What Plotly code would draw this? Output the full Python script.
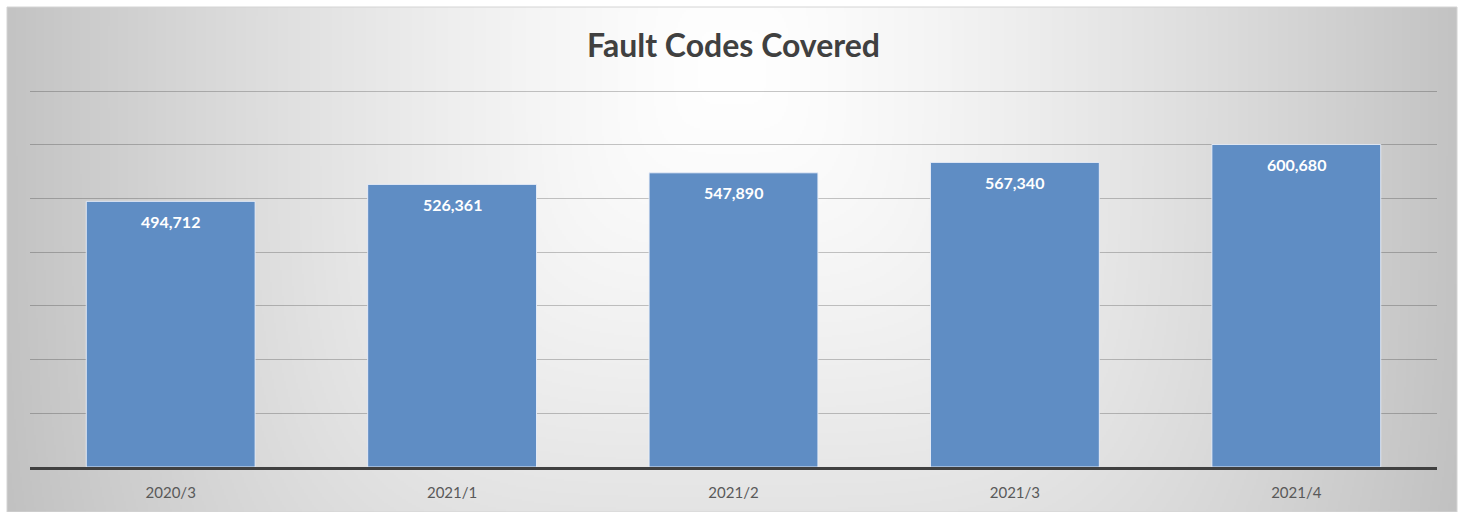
import base64
import struct
import zlib
import numpy as np
import plotly.graph_objects as go

categories = ["2020/3", "2021/1", "2021/2", "2021/3", "2021/4"]
values = [494712, 526361, 547890, 567340, 600680]
grid_values = [100000, 200000, 300000, 400000, 500000, 600000, 700000]
title_text = "Fault Codes Covered"

W, H = 1464, 512
ml, mr, mt, mb = 30, 27, 89, 45
pw, ph = W - ml - mr, H - mt - mb


def px_to_paper_x(px):
    return (px - ml) / pw


def px_to_paper_y(py):
    return (H - mb - py) / ph


box_x0, box_x1, box_y0, box_y1 = 7, 1457, 7, 512


def gradient_png(w, h):
    # rounded-rectangle style radial background (white centre, grey edges)
    xs = (np.arange(w) + 0.5) / w * 1450.0
    ys = (np.arange(h) + 0.5) / h * 505.0
    X, Y = np.meshgrid(xs, ys)
    dx = np.abs(X - 725.0) / 725.0
    dy = np.abs(Y - 60.0) / 800.0
    t = (dx ** 4 + dy ** 4) ** 0.25
    col = 255.0 - 60.0 * np.clip(t, 0, 1.2) ** 1.35
    col = np.clip(col, 0, 255).astype(np.uint8)
    raw = b"".join(b"\x00" + bytes(np.repeat(row, 3)) for row in col)

    def chunk(tag, data):
        c = struct.pack(">I", len(data)) + tag + data
        return c + struct.pack(">I", zlib.crc32(tag + data) & 0xFFFFFFFF)
    png = b"\x89PNG\r\n\x1a\n"
    png += chunk(b"IHDR", struct.pack(">IIBBBBB", w, h, 8, 2, 0, 0, 0))
    png += chunk(b"IDAT", zlib.compress(raw, 9))
    png += chunk(b"IEND", b"")
    return "data:image/png;base64," + base64.b64encode(png).decode()


bg_uri = gradient_png(725, 253)

fig = go.Figure()
fig.add_trace(go.Bar(
    x=categories, y=values,
    marker=dict(color="#5f8dc4", line=dict(color="rgba(235,240,250,0.9)", width=1)),
    hoverinfo="skip",
))

for c, v in zip(categories, values):
    fig.add_annotation(x=c, y=v, text=f"<b>{v:,}</b>", showarrow=False,
                       yanchor="middle", yshift=-20,
                       font=dict(family="Lato, Open Sans, sans-serif", size=16, color="white"))

fig.add_layout_image(dict(
    source=bg_uri, xref="paper", yref="paper",
    x=px_to_paper_x(box_x0), y=px_to_paper_y(box_y0),
    sizex=px_to_paper_x(box_x1) - px_to_paper_x(box_x0),
    sizey=px_to_paper_y(box_y0) - px_to_paper_y(box_y1),
    xanchor="left", yanchor="top", sizing="stretch", layer="below",
))
fig.add_shape(type="rect", xref="paper", yref="paper",
              x0=px_to_paper_x(box_x0), x1=px_to_paper_x(box_x1),
              y0=px_to_paper_y(box_y1), y1=px_to_paper_y(box_y0),
              line=dict(color="#d4d4d4", width=1), fillcolor="rgba(0,0,0,0)", layer="below")

fig.update_layout(
    width=W, height=H,
    margin=dict(l=ml, r=mr, t=mt, b=mb, pad=0),
    paper_bgcolor="white", plot_bgcolor="rgba(0,0,0,0)",
    bargap=0.4, showlegend=False,
    title=dict(text=f"<b>{title_text}</b>", x=0.5, xref="paper", y=1 - 46 / H, yanchor="middle",
               xanchor="center",
               font=dict(family="Lato, Open Sans, sans-serif", size=32, color="#404040")),
    xaxis=dict(showline=True, linecolor="#404040", linewidth=3, ticks="", showgrid=False,
               tickfont=dict(family="Lato, Open Sans, sans-serif", size=15, color="#595959"),
               ticklabelstandoff=10),
    yaxis=dict(range=[0, 704000], tickvals=grid_values,
               showticklabels=False, showgrid=True,
               gridcolor="rgba(0,0,0,0.22)", gridwidth=1, zeroline=False, fixedrange=True),
)

fig.write_html("out.html", config={"displayModeBar": False},
               post_script="document.body.style.margin='0px';")
